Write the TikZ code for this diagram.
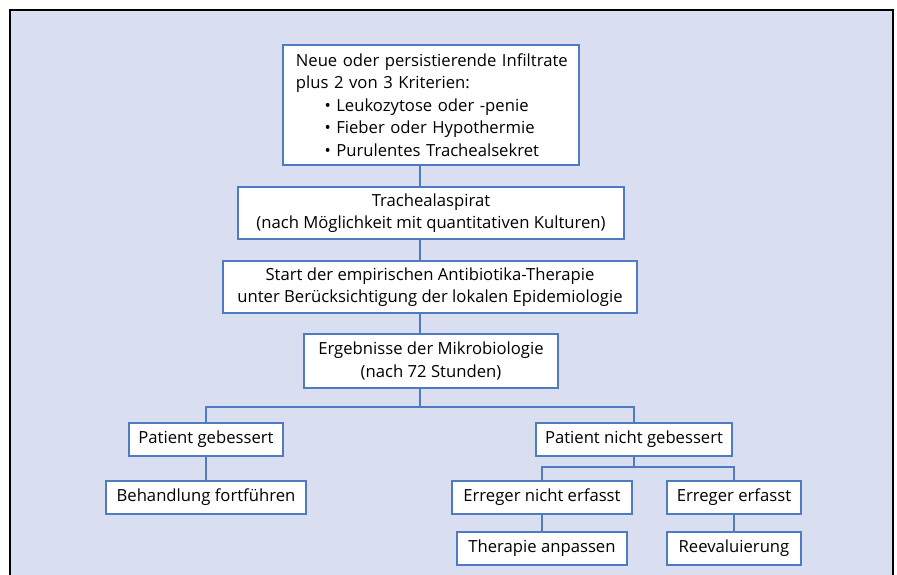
\documentclass[tikz,border=0pt]{standalone}
\usepackage{fontspec}
\setmainfont{Open Sans}

\definecolor{paneback}{HTML}{D9DEF1}
\definecolor{boxblue}{HTML}{4F7BC1}

\tikzset{
  flowbox/.style={draw=boxblue, fill=white, line width=1.3pt, inner sep=0pt,
    align=center, font=\fontsize{12.5}{16.8}\selectfont},
  smallbox/.style={flowbox, minimum height=24.75pt},
  link/.style={draw=boxblue, line width=1.3pt},
}

\begin{document}
\begin{tikzpicture}[x=0.75pt,y=-0.75pt]
        \useasboundingbox (0,0) rectangle (897,575);
        \clip (0,0) rectangle (897,575);

        % light panel with black frame, open at the bottom
        \draw[fill=paneback, line width=1.3pt] (10,10) rectangle (893,600);

        % main column
        \node[flowbox, align=left, text width=207.75pt, inner xsep=7pt,
              minimum height=90pt] (crit) at (431,105)
             {\hspace*{2.5pt}Neue oder persistierende Infiltrate\\
              \hspace*{2.5pt}plus 2 von 3 Kriterien:\\
              \hspace*{24pt}• Leukozytose oder -penie\\
              \hspace*{24pt}• Fieber oder Hypothermie\\
              \hspace*{24pt}• Purulentes Trachealsekret};
        \node[flowbox, minimum width=289.5pt, minimum height=39pt] (asp) at (431,213)
             {Trachealaspirat\\(nach Möglichkeit mit quantitativen Kulturen)};
        \node[flowbox, minimum width=310.5pt, minimum height=39pt] (start) at (430,287)
             {Start der empirischen Antibiotika-Therapie\\unter Berücksichtigung der lokalen Epidemiologie};
        \node[flowbox, minimum width=190.5pt, minimum height=40.5pt] (micro) at (431,361)
             {Ergebnisse der Mikrobiologie\\(nach 72 Stunden)};

        % outcome branches
        \node[smallbox, minimum width=115.5pt] (better) at (206,439.5) {Patient gebessert};
        \node[smallbox, minimum width=150pt] (cont) at (206,497.5) {Behandlung fortführen};
        \node[smallbox, minimum width=147pt] (worse) at (634,439.5) {Patient nicht gebessert};
        \node[smallbox, minimum width=135pt] (nofind) at (542,497.5) {Erreger nicht erfasst};
        \node[smallbox, minimum width=127.5pt] (adapt) at (542,548.5) {Therapie anpassen};
        \node[smallbox, minimum width=100.5pt] (found) at (734,497.5) {Erreger erfasst};
        \node[smallbox, minimum width=100.5pt] (reeval) at (734,548.5) {Reevaluierung};

        % connectors
        \coordinate (spine) at (420,0);
        \coordinate (fork) at (420,407);
        \coordinate (subfork) at (634,467);
        \draw[link] (crit.south -| spine) -- (asp.north -| spine);
        \draw[link] (asp.south -| spine) -- (start.north -| spine);
        \draw[link] (start.south -| spine) -- (micro.north -| spine);
        \draw[link] (micro.south -| spine) -- (fork);
        \draw[link] (better.north) |- (fork) -| (worse.north);
        \draw[link] (better) -- (cont);
        \draw[link] (worse.south) -- (subfork);
        \draw[link] (nofind.north) |- (subfork) -| (found.north);
        \draw[link] (nofind) -- (adapt);
        \draw[link] (found) -- (reeval);
\end{tikzpicture}
\end{document}
